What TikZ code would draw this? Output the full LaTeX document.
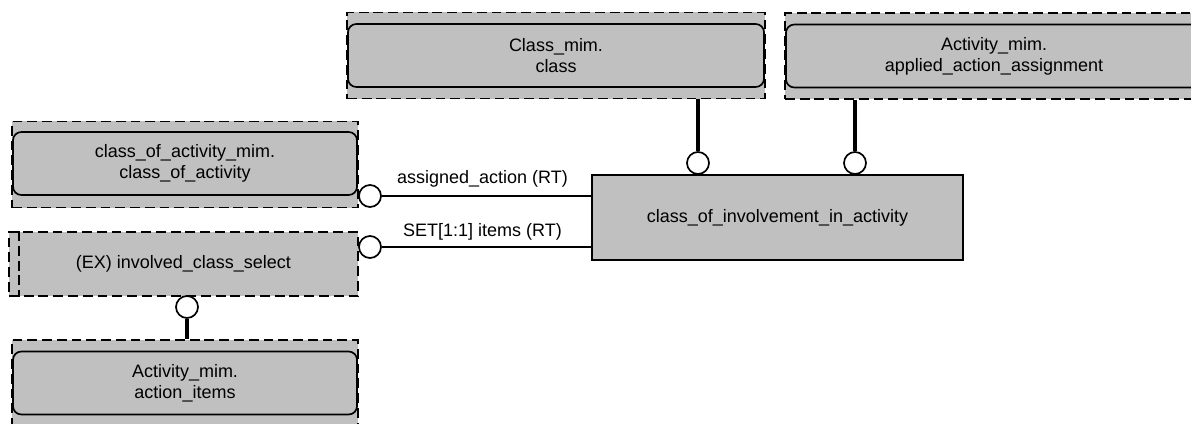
\documentclass[tikz,border=0pt]{standalone}
\usepackage{fontspec}
\setmainfont{Liberation Sans}
\usetikzlibrary{shapes,positioning,arrows}
\definecolor{boxgray}{RGB}{192,192,192}
\tikzset {
hull/.style={shape=rectangle,draw,fill=boxgray,line width=1.2pt,dash pattern=on 7pt off 3.5pt,minimum height=2.15cm},
mim/.style={shape=rectangle,rounded corners=6pt,draw,fill=boxgray,line width=1.2pt,align=center,minimum height=1.575cm},
entity/.style={shape=rectangle,draw,fill=boxgray,line width=1.2pt,align=center},
ring/.style={shape=circle,draw,fill=white,line width=1.2pt,minimum size=0.55cm,inner sep=0pt},
link/.style={line width=1.1pt},
tree/.style={line width=3.2pt}
}
\begin{document}
\begin{tikzpicture}
[x=0.025cm,y=-0.025cm,font=\fontsize{12.8pt}{15pt}\selectfont]
\useasboundingbox (0,0) rectangle (1191,423);
\node[hull,minimum width=10.45cm] (class hull) at (556,55.5) {};
\node[mim,minimum width=10.4cm] (class) at (556,55.5) {Class\_mim.\\class};
\node[hull,minimum width=10.45cm] (assignment hull) at (994,56) {};
\node[mim,minimum width=10.4cm] (assignment) at (994,56) {Activity\_mim.\\applied\_action\_assignment};
\node[hull,minimum width=8.65cm] (class of activity hull) at (185,164.5) {};
\node[mim,minimum width=8.6cm] (class of activity) at (185,163.5) {class\_of\_activity\_mim.\\class\_of\_activity};
\node[hull,minimum width=8.725cm,minimum height=1.6cm] (select) at (183.5,264) {(EX) involved\_class\_select};
\draw[link,dash pattern=on 7pt off 3.5pt] ([xshift=0.275cm]select.north west) -- ([xshift=0.275cm]select.south west);
\node[hull,minimum width=8.65cm] (items hull) at (185,383) {};
\node[mim,minimum width=8.6cm] (items) at (185,383) {Activity\_mim.\\action\_items};
\node[entity,minimum width=9.275cm,minimum height=2.125cm] (involvement) at (777.5,217.5) {class\_of\_involvement\_in\_activity};

\node[ring] (assigned ring) at (370,196) {};
\node[ring] (items ring) at (370,247) {};
\node[ring] (select ring) at (187,307) {};
\node[ring] (class ring) at (698,163) {};
\node[ring] (assignment ring) at (855,163) {};

\draw[link] (assigned ring) -- (involvement.west |- assigned ring) node[midway,above=2pt,xshift=-0.1cm] {assigned\_action (RT)};
\draw[link] (items ring) -- (involvement.west |- items ring) node[midway,above=1pt,xshift=-0.1cm] {SET[1:1] items (RT)};
\draw[tree] (class ring) -- (class ring |- class hull.south);
\draw[tree] (assignment ring) -- (assignment ring |- assignment hull.south);
\draw[tree] (select ring) -- (select ring |- items hull.north);
\end{tikzpicture}
\end{document}
